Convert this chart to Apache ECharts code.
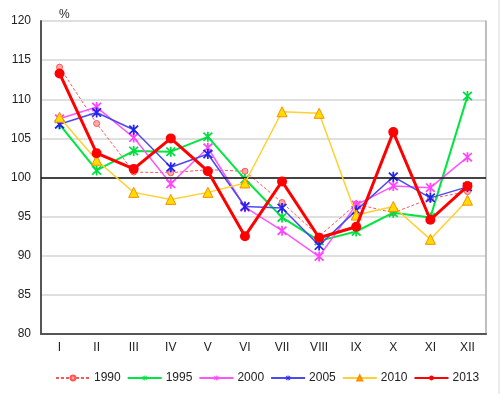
<!DOCTYPE html>
<html>
<head>
<meta charset="utf-8">
<script src="https://cdn.jsdelivr.net/npm/echarts@6/dist/echarts.min.js"></script>
<style>
html,body{margin:0;padding:0;background:#fff;}
#chart{width:500px;height:394px;}
</style>
</head>
<body>
<div id="chart"></div>
<script>
var categories = ['I','II','III','IV','V','VI','VII','VIII','IX','X','XI','XII'];
var s1990 = [114.1, 106.9, 100.7, 100.6, 101.0, 100.8, 96.8, 92.5, 96.6, 95.5, 97.3, 98.2];
var s1995 = [106.8, 100.9, 103.4, 103.3, 105.2, 99.8, 94.9, 91.9, 93.1, 95.5, 94.9, 110.4];
var s2000 = [107.5, 109.0, 105.1, 99.2, 103.8, 96.2, 93.2, 89.9, 96.5, 98.9, 98.7, 102.6];
var s2005 = [106.8, 108.3, 106.1, 101.3, 103.0, 96.3, 96.1, 91.3, 95.8, 100.1, 97.4, 98.8];
var s2010 = [107.7, 102.2, 98.1, 97.2, 98.1, 99.3, 108.4, 108.2, 95.2, 96.3, 92.1, 97.1];
var s2013 = [113.3, 103.1, 101.1, 105.0, 100.8, 92.5, 99.5, 92.3, 93.7, 105.8, 94.6, 98.9];
var yTicks = {min: 80, max: 120, interval: 5};

var ast = 'path://M-1,-6L1,-6L1,6L-1,6Z M-4.3,-5.7L5.7,4.3L4.3,5.7L-5.7,-4.3Z M4.3,-5.7L5.7,-4.3L-4.3,5.7L-5.7,4.3Z';
var font = 'Arial, "Liberation Sans", sans-serif';

var chart = echarts.init(document.getElementById('chart'), null, {renderer: 'canvas'});
chart.setOption({
  animation: false,
  backgroundColor: '#fff',
  title: {text: '%', left: 54, top: 4, textStyle: {fontSize: 12, fontWeight: 'normal', color: '#222', fontFamily: font}},
  grid: {left: 41, right: 14, top: 21, bottom: 60},
  legend: {
    top: 372, left: 55, width: 445, itemWidth: 34, itemHeight: 6, itemGap: 6, padding: 0,
    textStyle: {fontSize: 12, color: '#222', fontFamily: font, padding: [0, 0, 0, -1]},
    data: ['1990','1995','2000','2005','2010','2013']
  },
  graphic: [{type: 'line', shape: {x1: 499, y1: 0, x2: 499, y2: 394}, style: {stroke: '#d8d8d8', lineWidth: 1}}],
  xAxis: {
    type: 'category', data: categories, boundaryGap: true,
    axisLine: {lineStyle: {color: '#555', width: 2}},
    axisTick: {show: false},
    axisLabel: {color: '#222', fontSize: 12, margin: 8, fontFamily: font}
  },
  yAxis: [{
    type: 'value', min: yTicks.min, max: yTicks.max, interval: yTicks.interval,
    axisLine: {show: true, lineStyle: {color: '#555', width: 2}},
    axisTick: {show: false},
    axisLabel: {color: '#222', fontSize: 12, margin: 10, fontFamily: font},
    splitLine: {lineStyle: {color: '#d4d4d4', width: 1.5}}
  }, {
    type: 'value', min: yTicks.min, max: yTicks.max, interval: yTicks.interval, position: 'right',
    axisLine: {show: true, lineStyle: {color: '#aaa', width: 1.5}},
    axisTick: {show: false}, axisLabel: {show: false}, splitLine: {show: false}
  }],
  series: [
    {name: '1990', type: 'line', data: s1990, z: 3,
     lineStyle: {color: '#ff5555', width: 1, type: [3, 2]},
     itemStyle: {color: '#ffaaaa', borderColor: '#ff5555', borderWidth: 1},
     symbol: 'circle', symbolSize: 6,
     markLine: {silent: true, symbol: 'none', label: {show: false},
       lineStyle: {color: '#111', width: 1.5, type: 'solid'}, data: [{yAxis: 100}]}},
    {name: '1995', type: 'line', data: s1995, z: 4,
     lineStyle: {color: '#00e640', width: 2},
     itemStyle: {color: '#00dd40'}, symbol: ast, symbolSize: 10},
    {name: '2000', type: 'line', data: s2000, z: 4,
     lineStyle: {color: '#ff55ff', width: 1.5},
     itemStyle: {color: '#ff44ff'}, symbol: ast, symbolSize: 10},
    {name: '2005', type: 'line', data: s2005, z: 4,
     lineStyle: {color: '#4a4af0', width: 1.5},
     itemStyle: {color: '#2222ee'}, symbol: ast, symbolSize: 10},
    {name: '2010', type: 'line', data: s2010, z: 5,
     lineStyle: {color: '#ffd030', width: 1.5},
     itemStyle: {color: '#ffdd00', borderColor: '#ff8c00', borderWidth: 1},
     symbol: 'triangle', symbolSize: 10},
    {name: '2013', type: 'line', data: s2013, z: 6,
     lineStyle: {color: '#ff0000', width: 3},
     itemStyle: {color: '#ff0000'}, symbol: 'circle', symbolSize: 10}
  ]
});
</script>
</body>
</html>
